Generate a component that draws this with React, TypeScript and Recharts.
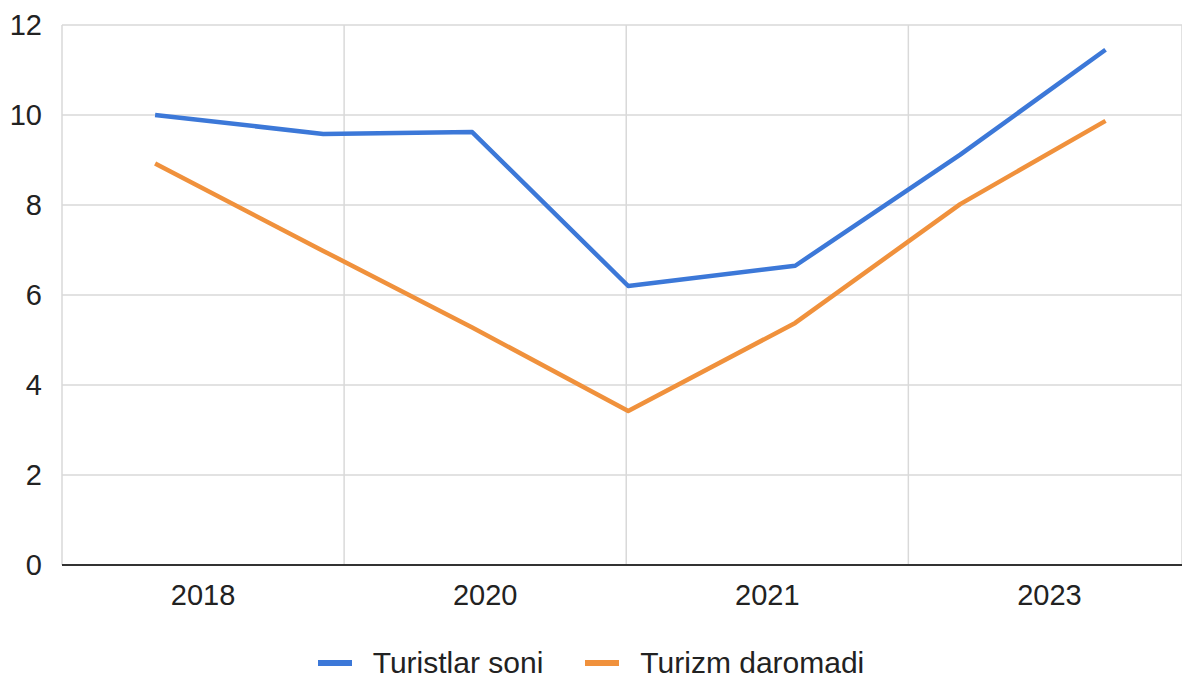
import { LineChart, Line, XAxis, YAxis, CartesianGrid, Legend } from 'recharts'

// x positions along the time axis (one unit per grid column)
const periods = [0.33, 0.926, 1.454, 2.007, 2.599, 3.184, 3.699]
const turistlarSoni = [10.0, 9.58, 9.62, 6.2, 6.65, 9.12, 11.45]
const turizmDaromadi = [8.92, 6.98, 5.28, 3.42, 5.38, 8.02, 9.87]

const yearLabels = ['2018', '2020', '2021', '2023']
const labelTicks = [0.5, 1.5, 2.5, 3.5]
const gridTicks = [0, 1, 2, 3]
const yTicks = [0, 2, 4, 6, 8, 10, 12]

const SERIES = [
  { key: 'soni', name: 'Turistlar soni', color: '#3c78d8' },
  { key: 'daromad', name: 'Turizm daromadi', color: '#f0913c' },
]

const FONT = '"Liberation Sans", Arial, sans-serif'
const X_DOMAIN = [0, 3.97]

const data = periods.map((p, i) => ({
  period: p,
  soni: turistlarSoni[i],
  daromad: turizmDaromadi[i],
}))

function ChartLegend() {
  return (
    <div
      style={{
        height: 62,
        boxSizing: 'border-box',
        paddingTop: 34,
        display: 'flex',
        justifyContent: 'center',
        alignItems: 'center',
        fontFamily: FONT,
        fontSize: 30,
        color: '#222',
      }}
    >
      {SERIES.map((s, i) => (
        <div key={s.key} style={{ display: 'flex', alignItems: 'center', marginLeft: i ? 42 : 0 }}>
          <span style={{ display: 'inline-block', width: 34, height: 6, background: s.color, marginRight: 21 }} />
          <span style={{ lineHeight: '28px' }}>{s.name}</span>
        </div>
      ))}
    </div>
  )
}

export default function App() {
  return (
    <div style={{ position: 'absolute', left: 0, top: 0, background: '#fff' }}>
      <LineChart width={1182} height={677} data={data} margin={{ top: 25, right: 0, left: 0, bottom: 0 }}>
        <CartesianGrid xAxisId="grid" stroke="#d9d9d9" strokeWidth={1.5} />
        <XAxis xAxisId="grid" type="number" dataKey="period" domain={X_DOMAIN} ticks={gridTicks} hide />
        <XAxis
          type="number"
          dataKey="period"
          domain={X_DOMAIN}
          ticks={labelTicks}
          tickFormatter={(v) => yearLabels[labelTicks.indexOf(v)] ?? ''}
          height={50}
          tickLine={false}
          tickSize={0}
          tickMargin={19}
          axisLine={{ stroke: '#333', strokeWidth: 2 }}
          tick={{ fontSize: 29, fill: '#222', fontFamily: FONT }}
        />
        <YAxis
          domain={[0, 12]}
          ticks={yTicks}
          width={62}
          axisLine={false}
          tickLine={false}
          tickSize={0}
          tickMargin={20}
          tick={{ fontSize: 29, fill: '#222', fontFamily: FONT }}
        />
        <Legend content={() => <ChartLegend />} />
        {SERIES.map((s) => (
          <Line
            key={s.key}
            dataKey={s.key}
            name={s.name}
            stroke={s.color}
            strokeWidth={4.5}
            dot={false}
            type="linear"
            strokeLinejoin="round"
            isAnimationActive={false}
          />
        ))}
      </LineChart>
    </div>
  )
}
